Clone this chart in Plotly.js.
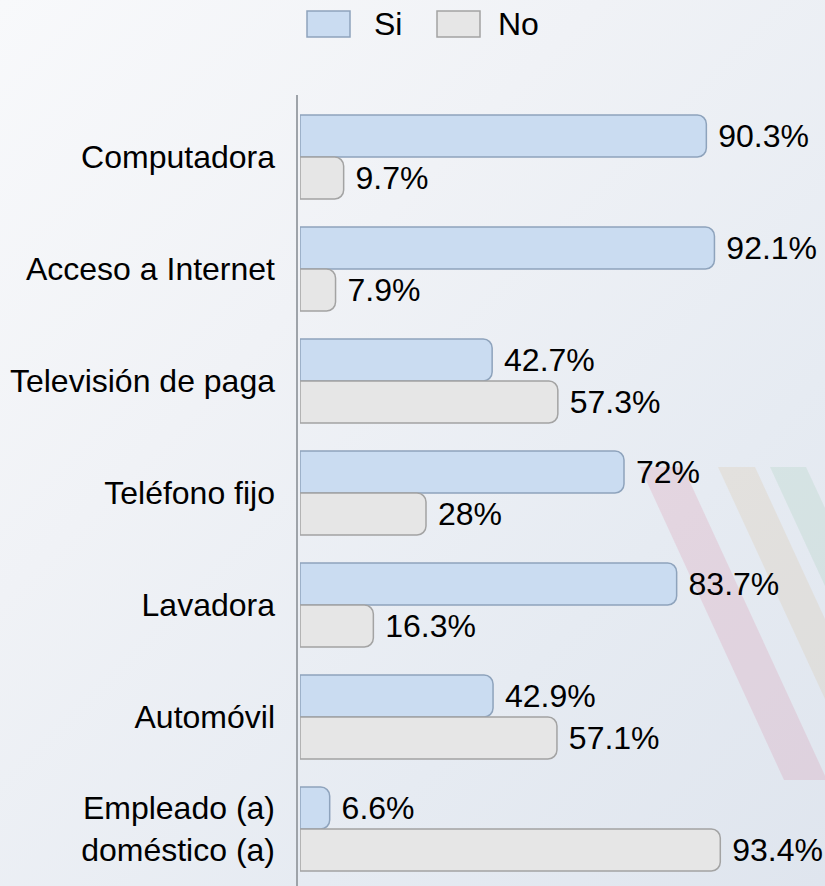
<!DOCTYPE html>
<html>
<head>
<meta charset="utf-8">
<script src="https://cdn.plot.ly/plotly-3.0.1.min.js"></script>
<style>
html,body{margin:0;padding:0;}
#chart{width:825px;height:886px;background:linear-gradient(135deg,#f8f9fb 0%,#f0f2f6 35%,#e6ebf2 70%,#dfe5ee 100%);}
</style>
</head>
<body>
<div id="chart"></div>
<script>
const categories = ["Computadora","Acceso a Internet","Televisión de paga","Teléfono fijo","Lavadora","Automóvil","Empleado (a)<br>doméstico (a)"];
const siValues = [90.3, 92.1, 42.7, 72, 83.7, 42.9, 6.6];
const noValues = [9.7, 7.9, 57.3, 28, 16.3, 57.1, 93.4];
const seriesNames = ["Si","No"];
const seriesColors = ["#cadcf1","#e6e6e6"];
const seriesLines = ["#8ea3bc","#a3a3a3"];

const W = 825, H = 886;
const L = 300, R = 750, T = 101, B = 885;
const px = x => (x - L) / (R - L);
const py = y => 1 - (y - T) / (B - T);
function poly(pts){ return 'M' + pts.map(p => px(p[0]) + ',' + py(p[1])).join(' L') + ' Z'; }

const font = {family: 'Liberation Sans, Arial, sans-serif', size: 32, color: '#000'};
const NB = '\u00a0';

const traces = [
  {type:'bar', orientation:'h', name:seriesNames[0], y:categories, x:siValues,
   text: siValues.map(v => NB + v + '%'), textposition:'outside', cliponaxis:false, constraintext:'none',
   textfont: font, showlegend:false,
   marker:{color:seriesColors[0], line:{color:seriesLines[0], width:1.5}, cornerradius:9}},
  {type:'bar', orientation:'h', name:seriesNames[1], y:categories, x:noValues,
   text: noValues.map(v => NB + v + '%'), textposition:'outside', cliponaxis:false, constraintext:'none',
   textfont: font, showlegend:false,
   marker:{color:seriesColors[1], line:{color:seriesLines[1], width:1.5}, cornerradius:9}}
];

// custom legend (larger swatches like the reference)
const legX = [[307,350],[437,480]];
const legTextX = [372, 496];
const legendShapes = legX.map((xx,i) => ({type:'rect', xref:'paper', yref:'paper', layer:'above',
  x0:px(xx[0]), x1:px(xx[1]), y0:py(37), y1:py(11),
  fillcolor:seriesColors[i], line:{color:seriesLines[i], width:1.5}}));
const legendAnn = seriesNames.map((n,i) => ({xref:'paper', yref:'paper', x:px(legTextX[i]), y:py(24),
  xanchor:'left', yanchor:'middle', text:n, showarrow:false, font:font}));

const layout = {
  width: W, height: H,
  paper_bgcolor: 'rgba(0,0,0,0)', plot_bgcolor: 'rgba(0,0,0,0)',
  margin: {l: L, r: W - R, t: T, b: H - B, pad: 0},
  barmode: 'group', bargap: 0.25, bargroupgap: 0,
  font: font,
  showlegend: false,
  xaxis: {range:[0,100], visible:false, fixedrange:true},
  yaxis: {autorange:'reversed', showline:false, ticks:'',
          tickfont: font, ticklabelstandoff: 24, showgrid:false, zeroline:false},
  annotations: legendAnn,
  shapes: [
    {type:'path', xref:'paper', yref:'paper', layer:'below', line:{width:0}, fillcolor:'rgba(205,70,110,0.13)',
     path: poly([[640,467],[683,467],[827,780],[784,780]])},
    {type:'path', xref:'paper', yref:'paper', layer:'below', line:{width:0}, fillcolor:'rgba(205,160,90,0.13)',
     path: poly([[718,467],[755,467],[825,619],[825,699]])},
    {type:'path', xref:'paper', yref:'paper', layer:'below', line:{width:0}, fillcolor:'rgba(90,175,115,0.11)',
     path: poly([[770,467],[806,467],[825,508],[825,586]])},
    {type:'line', xref:'paper', yref:'paper', x0:px(297), x1:px(297), y0:py(95), y1:py(886), line:{color:'#9ea3a9', width:2}}
  ].concat(legendShapes)
};

Plotly.newPlot('chart', traces, layout, {displayModeBar:false, staticPlot:true});
</script>
</body>
</html>
